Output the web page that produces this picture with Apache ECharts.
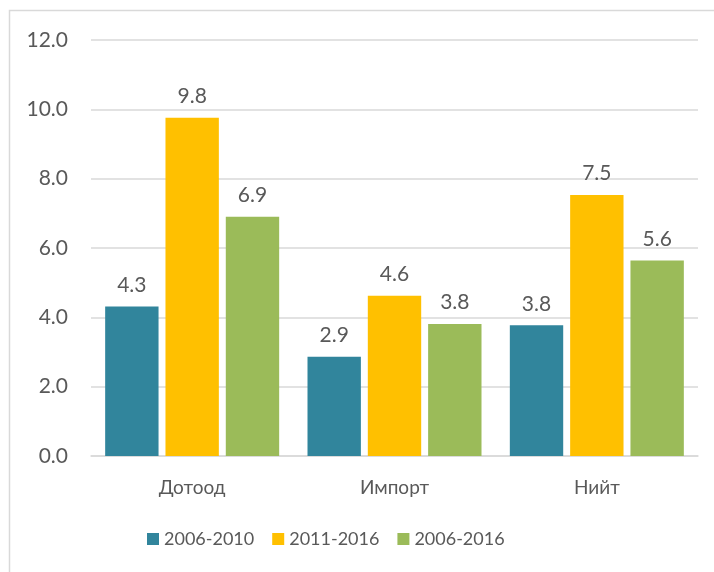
<!DOCTYPE html>
<html>
<head>
<meta charset="utf-8">
<script src="https://cdn.jsdelivr.net/npm/echarts@6/dist/echarts.min.js"></script>
<style>
  html, body { margin: 0; padding: 0; background: #fff; }
  #chart { width: 714px; height: 572px; }
</style>
</head>
<body>
<div id="chart"></div>
<script>
const categories = ['Дотоод', 'Импорт', 'Нийт']
const seriesNames = ['2006-2010', '2011-2016', '2006-2016']
const values2006_2010 = [4.31, 2.86, 3.77]
const values2011_2016 = [9.76, 4.62, 7.53]
const values2006_2016 = [6.9, 3.81, 5.64]
const colors = ['#31859C', '#FFC000', '#9BBB59']

const TEXT = '#595959'
const FONT = 'Lato'

const chart = echarts.init(document.getElementById('chart'))

function bar(name, data, color) {
  return {
    name,
    type: 'bar',
    data,
    barGap: '13%',
    barCategoryGap: '14%',
    itemStyle: { color },
    label: {
      show: true,
      position: 'top',
      distance: 11,
      color: TEXT,
      fontFamily: FONT,
      fontSize: 21,
      formatter: p => p.value.toFixed(1),
    },
  }
}

chart.setOption({
  animation: false,
  textStyle: { fontFamily: FONT },
  graphic: [{
    type: 'rect',
    shape: { x: 9.5, y: 10.5, width: 720, height: 580 },
    style: { fill: null, stroke: '#D9D9D9', lineWidth: 1.5 },
    silent: true,
  }],
  grid: { left: 91, right: 16, top: 40, bottom: 116 },
  legend: {
    top: 525,
    left: 142,
    icon: 'rect',
    itemWidth: 12,
    itemHeight: 12,
    itemGap: 18,
    textStyle: { color: TEXT, fontSize: 18, fontFamily: FONT },
    data: seriesNames,
  },
  xAxis: {
    type: 'category',
    data: categories,
    axisLine: { lineStyle: { color: '#D9D9D9', width: 1.5 } },
    axisTick: { show: false },
    axisLabel: { color: TEXT, fontSize: 19, margin: 22, fontFamily: FONT },
  },
  yAxis: {
    type: 'value',
    min: 0,
    max: 12,
    interval: 2,
    axisLine: { show: false },
    axisTick: { show: false },
    axisLabel: { color: TEXT, fontSize: 21, margin: 23, fontFamily: FONT, formatter: v => v.toFixed(1) },
    splitLine: { lineStyle: { color: '#D9D9D9', width: 1.5 } },
  },
  series: [
    bar(seriesNames[0], values2006_2010, colors[0]),
    bar(seriesNames[1], values2011_2016, colors[1]),
    bar(seriesNames[2], values2006_2016, colors[2]),
  ],
})
</script>
</body>
</html>
